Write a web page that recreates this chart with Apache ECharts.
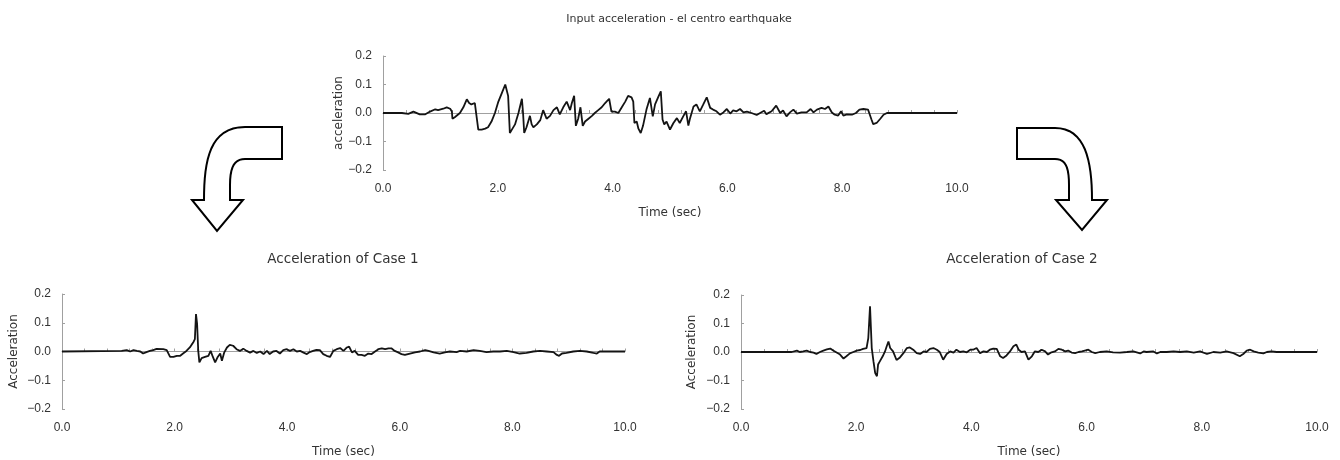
<!DOCTYPE html>
<html>
<head>
<meta charset="utf-8">
<title>Input acceleration - el centro earthquake</title>
<script src="https://cdn.jsdelivr.net/npm/echarts@6/dist/echarts.min.js"></script>
<style>
html, body { margin: 0; padding: 0; background: #fff; }
#chart { width: 1340px; height: 460px; }
</style>
</head>
<body>
<div id="chart"></div>
<script>
// values (time in sec, acceleration)
const inputTime = [0, 0.24, 0.27, 0.33, 0.44, 0.53, 0.64, 0.73, 0.82, 0.91, 0.96, 1.05, 1.11, 1.17, 1.20, 1.21, 1.25, 1.34, 1.40, 1.46,
  1.50, 1.54, 1.60, 1.63, 1.66, 1.72, 1.78, 1.83, 1.89, 1.95, 2.01, 2.07, 2.13, 2.15, 2.18, 2.21, 2.24, 2.30, 2.36, 2.42,
  2.44, 2.46, 2.50, 2.56, 2.59, 2.62, 2.68, 2.74, 2.79, 2.85, 2.91, 2.97, 3.03, 3.08, 3.14, 3.20, 3.26, 3.29, 3.33, 3.36,
  3.40, 3.44, 3.48, 3.52, 3.58, 3.64, 3.69, 3.75, 3.81, 3.87, 3.94, 3.98, 4.04, 4.10, 4.16, 4.22, 4.27, 4.33, 4.36, 4.38,
  4.42, 4.45, 4.49, 4.53, 4.59, 4.65, 4.70, 4.74, 4.80, 4.84, 4.87, 4.90, 4.94, 5.00, 5.06, 5.12, 5.17, 5.23, 5.28, 5.32,
  5.35, 5.41, 5.46, 5.52, 5.58, 5.64, 5.70, 5.75, 5.81, 5.87, 5.93, 5.99, 6.05, 6.10, 6.16, 6.22, 6.28, 6.34, 6.42, 6.51,
  6.57, 6.64, 6.68, 6.77, 6.85, 6.92, 6.97, 7.03, 7.09, 7.15, 7.21, 7.29, 7.38, 7.45, 7.50, 7.56, 7.64, 7.70, 7.76, 7.82,
  7.87, 7.93, 7.98, 8.02, 8.08, 8.17, 8.24, 8.30, 8.37, 8.45, 8.48, 8.51, 8.54, 8.60, 8.66, 8.72, 8.78, 10.0];
const inputAcc = [0, 0, -0.005, 0, -0.003, 0.005, -0.005, -0.005, 0.005, 0.013, 0.01, 0.015, 0.02, 0.015, 0.005, -0.02, -0.015, 0, 0.02, 0.048,
  0.035, 0.03, 0.035, 0.04, -0.058, -0.058, -0.055, -0.05, -0.03, 0, 0.04, 0.07, 0.1, 0.095, 0.06, -0.07, -0.06, -0.04, 0, 0.05,
  0, -0.07, -0.05, -0.01, -0.04, -0.05, -0.04, -0.025, 0.01, -0.02, -0.01, 0.01, 0.02, -0.005, 0.02, 0.04, 0.01, 0.035, 0.06, -0.045,
  -0.02, 0.02, -0.045, -0.03, -0.02, -0.01, 0, 0.01, 0.02, 0.035, 0.05, 0.005, 0.005, 0, 0.02, 0.04, 0.06, 0.055, 0.04, -0.035,
  -0.03, -0.055, -0.07, -0.045, 0.012, 0.053, -0.012, 0.03, 0.058, 0.076, -0.023, -0.04, -0.03, -0.058, -0.035, -0.018, -0.035, -0.012, 0.006, -0.044,
  -0.018, 0.023, 0.03, 0.006, 0.03, 0.055, 0.018, 0.012, 0.006, -0.006, 0.002, 0.014, -0.002, 0.009, 0.006, 0.014, 0.002, 0.005, 0, -0.007,
  0, 0.008, -0.004, 0.006, 0.026, 0, 0.009, -0.012, 0.002, 0.012, -0.002, 0.002, 0.002, 0.014, 0.002, 0.012, 0.018, 0.014, 0.023, 0.002,
  -0.006, -0.009, 0.006, -0.009, -0.005, -0.006, 0, 0.012, 0.014, 0.012, 0.009, -0.023, -0.039, -0.035, -0.021, -0.006, 0, 0];

const case1Time = [0, 1.06, 1.15, 1.21, 1.27, 1.33, 1.39, 1.44, 1.50, 1.56, 1.62, 1.68, 1.80, 1.86, 1.89, 1.92, 1.98, 2.04, 2.10, 2.15,
  2.21, 2.27, 2.30, 2.33, 2.36, 2.38, 2.39, 2.40, 2.42, 2.44, 2.48, 2.54, 2.60, 2.64, 2.68, 2.72, 2.76, 2.81, 2.84, 2.88,
  2.93, 2.98, 3.04, 3.10, 3.16, 3.22, 3.28, 3.34, 3.40, 3.46, 3.52, 3.58, 3.64, 3.69, 3.75, 3.81, 3.87, 3.93, 3.99, 4.05,
  4.11, 4.17, 4.23, 4.29, 4.35, 4.40, 4.46, 4.52, 4.58, 4.64, 4.70, 4.76, 4.82, 4.88, 4.94, 5.00, 5.06, 5.10, 5.15, 5.20,
  5.26, 5.32, 5.38, 5.44, 5.50, 5.56, 5.62, 5.68, 5.74, 5.80, 5.85, 5.91, 5.97, 6.03, 6.09, 6.18, 6.27, 6.36, 6.45, 6.51,
  6.60, 6.71, 6.80, 6.89, 7.01, 7.07, 7.19, 7.31, 7.42, 7.54, 7.66, 7.78, 7.90, 8.02, 8.13, 8.25, 8.37, 8.49, 8.61, 8.73,
  8.79, 8.83, 8.88, 8.96, 9.08, 9.20, 9.32, 9.44, 9.50, 9.55, 9.67, 10.0];
const case1Acc = [0, 0.002, 0.005, 0, 0.005, 0.002, 0, -0.007, -0.002, 0.002, 0.005, 0.009, 0.008, 0.005, 0, -0.019, -0.019, -0.015, -0.015, -0.007,
  0.002, 0.014, 0.023, 0.031, 0.043, 0.13, 0.133, 0.095, 0.002, -0.038, -0.023, -0.019, -0.015, 0.002, -0.019, -0.038, -0.021, -0.007, -0.032, -0.004,
  0.014, 0.023, 0.02, 0.008, 0.002, 0.01, 0.002, -0.004, 0.002, -0.005, 0, -0.009, 0.002, -0.009, 0, 0.002, -0.007, 0.005, 0.008, 0.002,
  0.008, 0, 0.002, -0.004, -0.009, -0.002, 0.002, 0.006, 0.005, -0.009, -0.015, -0.019, 0.002, 0.008, 0.012, 0.002, 0.014, 0.017, -0.003, 0.002,
  -0.012, -0.012, -0.015, -0.007, -0.009, 0, 0.008, 0.011, 0.008, 0.011, 0.011, 0.002, -0.003, -0.009, -0.012, -0.007, -0.003, 0, 0.005, 0.002,
  -0.003, -0.007, -0.003, 0, -0.002, 0.002, 0, 0.005, 0.002, -0.002, 0, 0, 0.002, -0.002, -0.007, -0.005, 0, 0.002, 0, -0.002,
  -0.012, -0.015, -0.007, -0.005, 0, 0.002, 0, -0.005, -0.007, 0, 0, 0];

const case2Time = [0, 0.88, 0.91, 0.97, 1.02, 1.08, 1.14, 1.20, 1.26, 1.31, 1.37, 1.43, 1.49, 1.55, 1.60, 1.66, 1.72, 1.78, 1.83, 1.89,
  1.95, 2.01, 2.07, 2.12, 2.18, 2.21, 2.24, 2.26, 2.27, 2.30, 2.33, 2.36, 2.38, 2.41, 2.46, 2.50, 2.53, 2.56, 2.59, 2.64,
  2.70, 2.76, 2.82, 2.88, 2.93, 2.99, 3.05, 3.11, 3.17, 3.22, 3.28, 3.34, 3.40, 3.45, 3.51, 3.57, 3.63, 3.69, 3.74, 3.80,
  3.86, 3.92, 3.98, 4.03, 4.09, 4.15, 4.21, 4.27, 4.32, 4.38, 4.44, 4.50, 4.55, 4.61, 4.67, 4.73, 4.78, 4.82, 4.87, 4.93,
  4.99, 5.05, 5.10, 5.16, 5.22, 5.28, 5.33, 5.39, 5.45, 5.51, 5.57, 5.63, 5.68, 5.74, 5.80, 5.86, 5.92, 5.97, 6.03, 6.09,
  6.15, 6.23, 6.35, 6.46, 6.58, 6.70, 6.81, 6.93, 6.99, 7.04, 7.16, 7.22, 7.28, 7.39, 7.51, 7.62, 7.74, 7.86, 7.97, 8.09,
  8.20, 8.32, 8.43, 8.55, 8.66, 8.72, 8.78, 8.84, 8.90, 8.98, 9.07, 9.13, 9.21, 9.30, 10.0];
const case2Acc = [0, 0, 0.004, 0.005, 0, 0.002, 0.005, 0, -0.002, -0.007, 0, 0.005, 0.009, 0.012, 0.005, -0.002, -0.009, -0.023, -0.015, -0.005,
  0, 0.005, 0.007, 0.011, 0.014, 0.049, 0.16, 0.154, 0.014, -0.033, -0.074, -0.085, -0.044, -0.033, -0.015, 0.002, 0.02, 0.037, 0.014, 0.002,
  -0.028, -0.019, -0.004, 0.014, 0.016, 0.008, -0.004, -0.007, 0.002, 0, 0.011, 0.014, 0.008, 0, -0.027, -0.007, 0.002, -0.002, 0.008, 0,
  0.002, -0.001, 0.008, 0.008, 0.014, -0.004, 0.002, 0, 0.008, 0.012, 0.011, -0.015, -0.021, -0.012, 0.002, 0.02, 0.026, 0.008, 0, 0.002,
  -0.027, -0.015, 0.002, 0, 0.008, 0.002, -0.009, -0.001, 0.002, 0.011, 0.008, 0.002, 0.005, -0.002, -0.004, 0, 0.002, 0.005, 0.008, 0,
  -0.004, 0, 0.002, -0.001, -0.002, 0, 0.002, -0.005, 0.002, 0, 0.002, -0.005, 0, 0, 0.002, 0, 0.002, -0.002, 0.002, -0.007,
  0, -0.002, 0.002, -0.004, -0.015, -0.007, 0.005, 0.008, 0.002, -0.002, -0.005, 0, 0.002, 0, 0];

const titles = ['Input acceleration - el centro earthquake', 'Acceleration of Case 1', 'Acceleration of Case 2'];
const yNames = ['acceleration', 'Acceleration', 'Acceleration'];
const xName = 'Time (sec)';

const pairs = (ts, vs) => ts.map((t, i) => [t, vs[i]]);
const seriesData = [pairs(inputTime, inputAcc), pairs(case1Time, case1Acc), pairs(case2Time, case2Acc)];

const grids = [
  { left: 383, top: 56, width: 574, height: 114 },
  { left: 62, top: 294, width: 563, height: 115 },
  { left: 741, top: 295, width: 576, height: 114 }
];
const yGaps = [30, 42, 43];

const labelFont = { color: '#333', fontSize: 12, fontFamily: 'Liberation Sans' };
const nameFont = { color: '#333', fontSize: 12, fontFamily: 'DejaVu Sans' };

const fmt = v => (Math.abs(v) < 1e-9 ? 0 : v).toFixed(1).replace('-', '\u2212');

let xAxes = [], yAxes = [], series = [];
grids.forEach((g, i) => {
  // labelled time axis at the bottom of the plot
  xAxes.push({
    gridIndex: i, type: 'value', min: 0, max: 10, interval: 2, position: 'bottom',
    axisLine: { show: false, onZero: false }, axisTick: { show: false }, splitLine: { show: false },
    axisLabel: Object.assign({ margin: 13, formatter: fmt }, labelFont),
    name: xName, nameLocation: 'middle', nameGap: 37, nameTextStyle: nameFont
  });
  // zero line with the small ticks
  xAxes.push({
    gridIndex: i, type: 'value', min: 0, max: 10, interval: 0.4, position: 'bottom',
    axisLine: { show: true, onZero: true, lineStyle: { color: '#a0a0a0', width: 1 } },
    axisTick: { show: true, inside: true, length: 3, lineStyle: { color: '#a0a0a0' } },
    axisLabel: { show: false }, splitLine: { show: false }
  });
  yAxes.push({
    gridIndex: i, type: 'value', min: -0.2, max: 0.2, interval: 0.1,
    axisLine: { show: true, onZero: false, lineStyle: { color: '#a0a0a0', width: 1 } },
    axisTick: { show: true, inside: true, length: 3, lineStyle: { color: '#a0a0a0' } },
    axisLabel: Object.assign({ margin: 11, formatter: fmt }, labelFont),
    splitLine: { show: false },
    name: yNames[i], nameLocation: 'middle', nameGap: yGaps[i], nameTextStyle: nameFont
  });
  series.push({
    type: 'line', xAxisIndex: i * 2, yAxisIndex: i, data: seriesData[i],
    showSymbol: false, animation: false,
    lineStyle: { color: '#141414', width: 1.8 }
  });
});

// sample a cubic bezier for the arrow outlines
function bez(p0, p1, p2, p3, n) {
  let out = [];
  for (let k = 0; k <= n; k++) {
    const t = k / n, u = 1 - t;
    out.push([
      u * u * u * p0[0] + 3 * u * u * t * p1[0] + 3 * u * t * t * p2[0] + t * t * t * p3[0],
      u * u * u * p0[1] + 3 * u * u * t * p1[1] + 3 * u * t * t * p2[1] + t * t * t * p3[1]
    ]);
  }
  return out;
}
const leftArrow = [].concat(
  bez([204, 200], [204, 160], [210, 127], [245, 127], 16),
  [[282, 127], [282, 159]],
  bez([245, 159], [235, 159], [230, 166], [230, 185], 10),
  [[230, 200], [243, 200], [217, 231], [192, 200]]
);
const rightArrow = [].concat(
  [[1017, 128]],
  bez([1055, 128], [1085, 128], [1092, 160], [1092, 200], 16),
  [[1107, 200], [1082, 230], [1056, 200], [1069, 200]],
  bez([1069, 185], [1069, 166], [1065, 159], [1055, 159], 10),
  [[1017, 159]]
);

const chart = echarts.init(document.getElementById('chart'));
chart.setOption({
  backgroundColor: '#fff',
  animation: false,
  title: [
    { text: titles[0], left: 674, top: 9, textAlign: 'center', textStyle: { color: '#333', fontSize: 11, fontWeight: 'normal', fontFamily: 'DejaVu Sans' } },
    { text: titles[1], left: 338, top: 247, textAlign: 'center', textStyle: { color: '#333', fontSize: 13.5, fontWeight: 'normal', fontFamily: 'DejaVu Sans' } },
    { text: titles[2], left: 1017, top: 247, textAlign: 'center', textStyle: { color: '#333', fontSize: 13.5, fontWeight: 'normal', fontFamily: 'DejaVu Sans' } }
  ],
  grid: grids,
  xAxis: xAxes,
  yAxis: yAxes,
  series: series,
  graphic: [
    { type: 'polygon', z: 10, shape: { points: leftArrow }, style: { fill: '#fff', stroke: '#000', lineWidth: 2 } },
    { type: 'polygon', z: 10, shape: { points: rightArrow }, style: { fill: '#fff', stroke: '#000', lineWidth: 2 } }
  ]
});
</script>
</body>
</html>
